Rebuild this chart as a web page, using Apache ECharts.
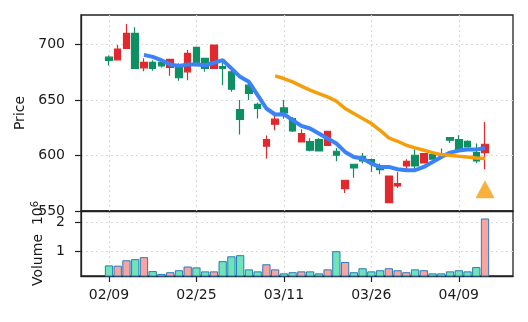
<!DOCTYPE html>
<html>
<head>
<meta charset="utf-8">
<script src="https://cdn.jsdelivr.net/npm/echarts@6/dist/echarts.min.js"></script>
<style>
html,body{margin:0;padding:0;background:#fff;}
#chart{width:528px;height:322px;}
</style>
</head>
<body>
<div id="chart"></div>
<script>
// Trading-day labels (index along x axis)
var dates = ['02/09','02/10','02/11','02/12','02/13','02/16','02/17','02/18','02/19','02/20',
             '02/25','02/26','02/27','03/02','03/03','03/04','03/05','03/06','03/09','03/10',
             '03/11','03/12','03/13','03/16','03/17','03/18','03/19','03/20','03/23','03/25',
             '03/26','03/27','03/30','03/31','04/01','04/02','04/03','04/06','04/07','04/08',
             '04/09','04/10','04/13','04/14'];
var xTickIdx = [0, 10, 20, 30, 40];

var opens  = [688.5,686.1,696.4,709.9,678.9,683.8,683.8,679.3,681.3,675.3,
              697.3,687.4,678.4,680.0,675.3,641.4,663.3,646.0,608.3,628.2,
              642.8,633.3,612.2,612.5,614.4,609.0,603.8,570.2,592.1,599.3,
              596.3,590.3,557.5,572.5,590.6,600.2,593.3,600.8,601.5,616.2,
              614.4,612.8,602.6,602.6];
var highs  = [690.0,699.5,718.3,715.5,687.6,685.8,685.0,687.0,683.0,695.0,
              697.5,688.0,699.5,684.0,677.0,650.0,668.0,647.7,618.0,638.0,
              650.0,634.7,623.6,615.5,615.8,622.0,606.8,578.0,592.5,602.3,
              597.2,592.7,581.7,585.2,596.6,605.6,602.0,602.6,606.2,616.5,
              618.2,613.7,610.8,630.2];
var lows   = [681.0,686.0,696.0,678.4,675.9,676.2,679.3,671.7,667.2,667.8,
              683.0,675.3,678.0,663.3,657.3,619.0,650.0,633.3,597.2,622.7,
              633.0,621.2,612.0,603.8,603.8,608.8,594.8,566.2,580.0,592.7,
              585.2,583.0,557.3,570.7,587.6,587.6,593.0,596.5,597.2,611.3,
              604.5,607.1,593.3,587.6];
var closes = [685.6,695.8,709.9,678.4,683.8,678.4,680.7,686.6,670.0,692.0,
              683.4,678.4,699.4,678.5,659.7,632.4,655.8,642.3,614.4,632.7,
              638.3,622.1,619.8,604.7,604.1,621.8,600.2,577.7,588.8,595.1,
              593.3,587.3,581.5,574.7,594.8,590.6,601.7,596.6,600.2,613.7,
              604.7,607.7,595.1,610.1];
// Volume in millions
var volumes = [0.49,0.48,0.67,0.71,0.78,0.29,0.19,0.25,0.32,0.45,
               0.42,0.28,0.28,0.64,0.81,0.85,0.35,0.28,0.53,0.35,
               0.21,0.25,0.28,0.28,0.21,0.35,0.99,0.61,0.25,0.39,
               0.28,0.32,0.39,0.32,0.25,0.35,0.32,0.21,0.21,0.28,
               0.32,0.28,0.43,2.14];
// Short moving average (starts at index 4)
var maShortStart = 4;
var maShort = [690.6,688.8,685.8,682.0,680.7,682.0,682.0,681.3,683.4,685.8,
               678.4,670.8,666.3,654.3,642.3,636.9,637.2,631.8,626.6,624.3,
               619.8,615.3,610.8,603.2,598.7,597.2,592.7,589.7,589.7,587.6,
               586.7,586.7,589.7,594.2,598.7,602.6,604.4,605.3,605.3,606.8];
// Long moving average (starts at index 19)
var maLongStart = 19;
var maLong = [671.7,669.3,666.3,662.4,658.8,655.8,652.8,648.9,642.3,637.8,
              633.3,628.8,622.7,615.8,612.8,609.2,606.8,604.7,602.6,600.8,
              600.2,599.3,598.7,597.8,597.2];
// Buy signal marker
var signalIdx = [43];
var signalPrice = [569.5];

var priceTicks = [550, 600, 650, 700];
var volTicks = [1, 2];

var UP = '#e0282e', DOWN = '#0e8f64';
var VOL_UP = '#f6a5a3', VOL_DOWN = '#6fe3b9';
var FONT = 'DejaVu Sans';
var TXT = '#1a1a1a';
var SPINE = {show: true, onZero: false, lineStyle: {color: '#222', width: 1.3}};

var candleData = dates.map(function(d, i){ return [i, opens[i], closes[i], lows[i], highs[i]]; });
var volData = volumes.map(function(v, i){
  return {value: [i, v], itemStyle: {color: closes[i] >= opens[i] ? VOL_UP : VOL_DOWN}};
});
var maShortData = maShort.map(function(v, k){ return [maShortStart + k, v]; });
var maLongData = maLong.map(function(v, k){ return [maLongStart + k, v]; });
var signalData = signalIdx.map(function(x, k){ return [x, signalPrice[k]]; });

var gridLine = {show: true, lineStyle: {color: '#d9d9d9', width: 1.2, type: [2, 3]}};
var tickStyle = {show: true, length: 6, inside: false, lineStyle: {color: '#222', width: 1.2}};

var chart = echarts.init(document.getElementById('chart'), null, {renderer: 'canvas'});
chart.setOption({
  animation: false,
  backgroundColor: '#fff',
  grid: [
    {left: 81, right: 15, top: 15, height: 196, show: true, borderColor: '#222', borderWidth: 1.3, backgroundColor: 'transparent'},
    {left: 81, right: 15, top: 211, height: 65, show: true, borderColor: '#222', borderWidth: 1.3, backgroundColor: 'transparent'}
  ],
  xAxis: [
    {type: 'value', gridIndex: 0, min: -3.2, max: 46.2, position: 'bottom',
     axisLine: SPINE,
     axisTick: {show: false, customValues: xTickIdx},
     axisLabel: {show: false, customValues: xTickIdx},
     splitLine: gridLine},
    {type: 'value', gridIndex: 1, min: -3.2, max: 46.2, position: 'bottom',
     axisLine: SPINE,
     axisTick: Object.assign({}, tickStyle, {customValues: xTickIdx}),
     axisLabel: {show: true, customValues: xTickIdx, fontFamily: FONT, fontSize: 14, color: TXT, margin: 12,
       formatter: function(v){ return dates[Math.round(v)] || ''; }},
     splitLine: gridLine}
  ],
  yAxis: [
    {type: 'value', gridIndex: 0, min: 550, max: 726.5,
     name: 'Price', nameLocation: 'middle', nameRotate: 90, nameGap: 50,
     nameTextStyle: {fontFamily: FONT, fontSize: 14, color: TXT},
     axisLine: SPINE,
     axisTick: Object.assign({}, tickStyle, {customValues: priceTicks}),
     axisLabel: {customValues: priceTicks, fontFamily: FONT, fontSize: 14, color: TXT, margin: 16},
     splitLine: gridLine},
    {type: 'value', gridIndex: 1, min: 0.117, max: 2.403,
     name: 'Volume  10{sup|6}', nameLocation: 'middle', nameRotate: 90, nameGap: 34,
     nameTextStyle: {fontFamily: FONT, fontSize: 14, color: TXT,
       rich: {sup: {fontFamily: FONT, fontSize: 10, color: TXT, verticalAlign: 'top', padding: [0,0,6,0]}}},
     axisLine: SPINE,
     axisTick: Object.assign({}, tickStyle, {customValues: volTicks}),
     axisLabel: {customValues: volTicks, fontFamily: FONT, fontSize: 14, color: TXT, margin: 16},
     splitLine: gridLine}
  ],
  series: [
    {type: 'candlestick', xAxisIndex: 0, yAxisIndex: 0, data: candleData,
     encode: {x: 0, y: [1, 2, 3, 4]},
     barWidth: 7,
     itemStyle: {color: UP, color0: DOWN, borderColor: UP, borderColor0: DOWN, borderWidth: 1.2},
     z: 2},
    {type: 'line', xAxisIndex: 0, yAxisIndex: 0, data: maShortData, showSymbol: false, symbol: 'none',
     lineStyle: {color: '#3b82f6', width: 4}, z: 3},
    {type: 'line', xAxisIndex: 0, yAxisIndex: 0, data: maLongData, showSymbol: false, symbol: 'none',
     lineStyle: {color: '#f59e0b', width: 3.5}, z: 4},
    {type: 'scatter', xAxisIndex: 0, yAxisIndex: 0, data: signalData, symbol: 'triangle',
     symbolSize: [19, 18], itemStyle: {color: '#f59e0b'}, z: 5},
    {type: 'bar', xAxisIndex: 1, yAxisIndex: 1, data: volData, barWidth: 8.3,
     itemStyle: {borderColor: '#2a7bb9', borderWidth: 1}, clip: true, z: 2}
  ]
});
</script>
</body>
</html>
